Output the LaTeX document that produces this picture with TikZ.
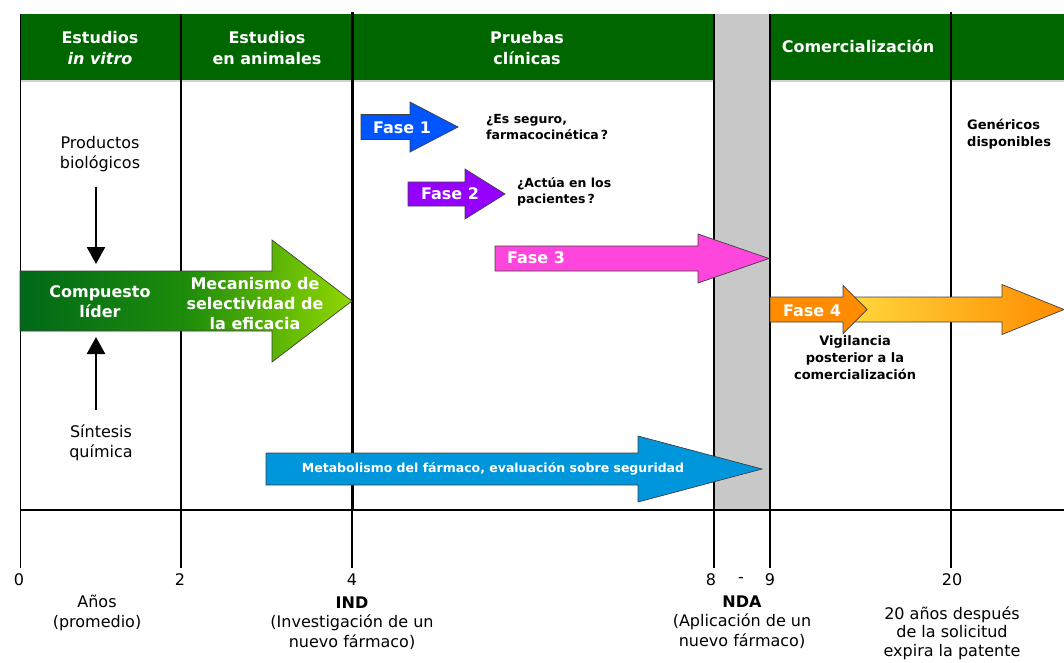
\documentclass[tikz,border=0pt]{standalone}
\usepackage{fontspec}
\setmainfont{DejaVu Sans}
\usepackage{tikz}
\usetikzlibrary{arrows.meta, positioning}

\definecolor{verdehdr}{RGB}{0,102,0}
\definecolor{gris}{RGB}{200,200,200}
\definecolor{azulfase}{RGB}{0,85,255}
\definecolor{moradofase}{RGB}{150,0,255}
\definecolor{rosafase}{RGB}{255,70,220}
\definecolor{naranja}{RGB}{255,140,0}
\definecolor{amarillo}{RGB}{255,215,60}
\definecolor{azulmeta}{RGB}{0,150,220}
\definecolor{verdeosc}{RGB}{0,105,25}
\definecolor{verdemed}{RGB}{30,140,10}
\definecolor{verdeclaro}{RGB}{145,215,0}

% block arrow: x start, x head, x tip, y centre, half body, half head
\newcommand{\flechapath}[6]{(#1,#4-#5) -- (#2,#4-#5) -- (#2,#4-#6) -- (#3,#4) -- (#2,#4+#6) -- (#2,#4+#5) -- (#1,#4+#5) -- cycle}

\begin{document}
\begin{tikzpicture}[
    x=1pt, y=-1pt,
    hdr/.style={text=white, font=\bfseries\fontsize{16}{21}\selectfont, align=center, inner sep=0pt},
    lbl/.style={font=\fontsize{16}{19.5}\selectfont, align=center, inner sep=0pt},
    fase/.style={text=white, font=\bfseries\fontsize{16}{19}\selectfont, inner sep=0pt},
    nota/.style={font=\bfseries\fontsize{12.5}{16}\selectfont, align=left, anchor=west, inner sep=0pt},
    dentro/.style={text=white, font=\bfseries\fontsize{16}{20}\selectfont, align=center, inner sep=0pt},
    flecha/.style={draw=black!75, line width=0.7pt},
    vec/.style={-{Triangle[width=18pt,length=17pt]}, line width=2.5pt},
    tick/.style={line width=1.2pt}
  ]
    \useasboundingbox (0,0) rectangle (1064,662);

    % header band and NDA band
    \fill[verdehdr] (20,14) rectangle (714,80);
    \fill[verdehdr] (770,14) rectangle (1064,80);
    \draw[gray!35, line width=1.5pt] (20,81) -- (714,81) (770,81) -- (1064,81);
    \fill[gris] (714,14) rectangle (770,510);

    % columns and time axis
    \draw[line width=1pt] (20,14) -- (20,568);
    \draw[line width=2pt] (181,14) -- (181,510);
    \draw[line width=3pt] (352,12) -- (352,510);
    \draw[line width=1.5pt] (714,14) -- (714,568);
    \draw[line width=1.5pt] (770,14) -- (770,568);
    \draw[line width=2pt] (951,12) -- (951,510);
    \draw[tick] (20,510) -- (1064,510);
    \draw[tick] (181,510) -- (181,568);
    \draw[tick] (352,510) -- (352,568);
    \draw[tick] (951,510) -- (951,568);

    \node[hdr] (hvitro) at (100,48) {Estudios\\\textit{in vitro}};
    \node[hdr] (hanimal) at (267,48) {Estudios\\en animales};
    \node[hdr] (hclin) at (527,48) {Pruebas\\clínicas};
    \node[hdr] (hcom) at (858,46) {Comercialización};

    % arrows
    \draw[flecha, left color=verdeosc, right color=verdeclaro, middle color=verdemed] \flechapath{20}{272}{352}{301}{30}{61};
    \draw[flecha, fill=azulfase] \flechapath{361}{410}{458}{127}{12.5}{25};
    \draw[flecha, fill=moradofase] \flechapath{408}{465}{505}{194}{12}{25};
    \draw[flecha, fill=rosafase] \flechapath{495}{698}{769}{258.5}{12.5}{24.5};
    \draw[flecha, left color=amarillo, right color=naranja] \flechapath{850}{1002}{1064}{309.5}{12.5}{25};
    \draw[flecha, fill=naranja] \flechapath{770}{843}{867}{309.5}{12.5}{24};
    \draw[flecha, fill=azulmeta] \flechapath{266}{638}{762}{469}{16}{33};

    \node[dentro] (lider) at (100,302) {Compuesto\\líder};
    \node[dentro] (mecanismo) at (255,304) {Mecanismo de\\selectividad de\\la eficacia};
    \node[fase] (fase1) at (402,128) {Fase 1};
    \node[fase] (fase2) at (450,194) {Fase 2};
    \node[fase] (fase3) at (536,258) {Fase 3};
    \node[fase] (fase4) at (812,311) {Fase 4};
    \node[text=white, font=\bfseries\fontsize{12.5}{15}\selectfont, inner sep=0pt] (metab) at (493,469) {Metabolismo del fármaco, evaluación sobre seguridad};

    \node[nota] (seguro) at (486,127) {¿Es seguro,\\farmacocinética\,?};
    \node[nota] (actua) at (517,192) {¿Actúa en los\\pacientes\,?};
    \node[nota, font=\bfseries\fontsize{13}{17}\selectfont] (genericos) at (967,134) {Genéricos\\disponibles};
    \node[nota, font=\bfseries\fontsize{13}{17}\selectfont, align=center, anchor=center] (vigilancia) at (855,358) {Vigilancia\\posterior a la\\comercialización};

    % sources of the lead compound
    \node[lbl] (productos) at (100,154) {Productos\\biológicos};
    \node[lbl] (sintesis) at (101,443) {Síntesis\\química};
    \coordinate (liderN) at (96,264);
    \coordinate (liderS) at (96,337);
    \draw[vec, shorten <=15pt] (productos.south -| liderN) -- (liderN);
    \draw[vec, shorten <=15pt] (sintesis.north -| liderS) -- (liderS);

    % time labels
    \node[lbl] (t0) at (19,580) {0};
    \node[lbl] (t2) at (180,580) {2};
    \node[lbl] (t4) at (352,580) {4};
    \node[lbl] (t8) at (711,580) {8};
    \node[lbl] (tguion) at (741,580) {-};
    \node[lbl] (t9) at (770,580) {9};
    \node[lbl] (t20) at (952,580) {20};
    \node[lbl] (anos) at (97,613) {Años\\(promedio)};
    \node[lbl] (ind) at (352,623) {\textbf{IND}\\(Investigación de un\\nuevo fármaco)};
    \node[lbl] (nda) at (742,622) {\textbf{NDA}\\(Aplicación de un\\nuevo fármaco)};
    \node[lbl, font=\fontsize{16}{18.5}\selectfont] (patente) at (952,633) {20 años después\\de la solicitud\\expira la patente};
  \end{tikzpicture}
\end{document}
